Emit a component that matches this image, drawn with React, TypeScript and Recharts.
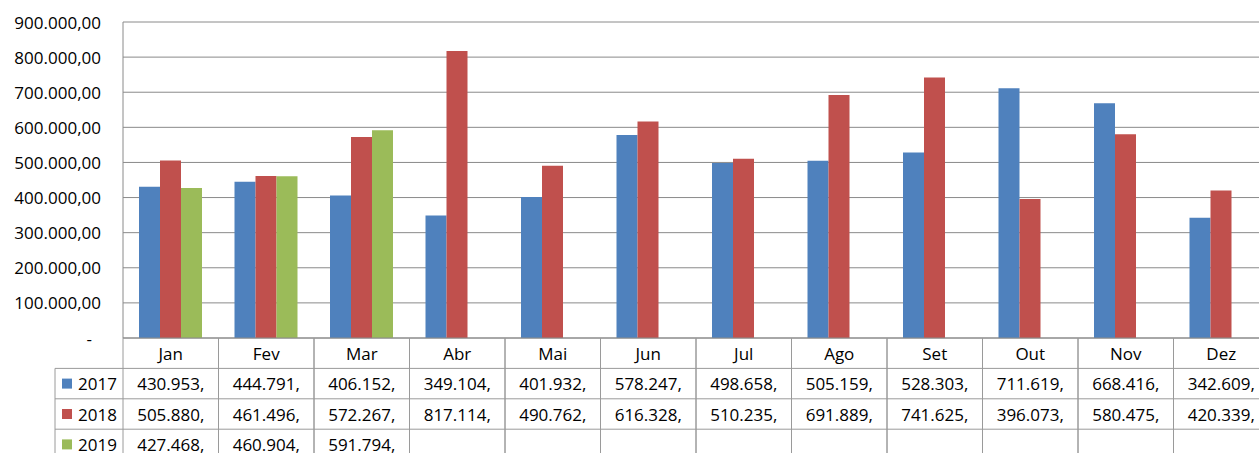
import { BarChart, Bar, XAxis, YAxis, CartesianGrid } from "recharts"

const months = ["Jan", "Fev", "Mar", "Abr", "Mai", "Jun", "Jul", "Ago", "Set", "Out", "Nov", "Dez"]
const sales2017 = [430953, 444791, 406152, 349104, 401932, 578247, 498658, 505159, 528303, 711619, 668416, 342609]
const sales2018 = [505880, 461496, 572267, 817114, 490762, 616328, 510235, 691889, 741625, 396073, 580475, 420339]
const sales2019 = [427468, 460904, 591794, null, null, null, null, null, null, null, null, null]
const yTicks = [0, 100000, 200000, 300000, 400000, 500000, 600000, 700000, 800000, 900000]

const series = [
  { key: "y2017", label: "2017", color: "#4F81BD", values: sales2017 },
  { key: "y2018", label: "2018", color: "#C0504D", values: sales2018 },
  { key: "y2019", label: "2019", color: "#9BBB59", values: sales2019 },
]

const chartData = months.map((month, i) => {
  const row: any = { month }
  series.forEach((s) => {
    row[s.key] = s.values[i]
  })
  return row
})

const FONT = "'Open Sans', 'Liberation Sans', sans-serif"
const GRID = "#8a8a8a"
const TABLE_LINE = "#9a9a9a"
const ROW_H = 30.4
const AXIS_Y = 338

// 1234567 -> "1.234.567"
const group = (n: number) => {
  const s = String(Math.floor(n))
  return s.replace(/\B(?=(\d{3})+(?!\d))/g, ".")
}

const formatYAxis = (v: number) => (v === 0 ? "-" : `${group(v)},00`)
const formatCell = (v: number | null) => (v == null ? "" : `${group(v)},`)

const YTick = ({ x, y, payload }: any) => (
  <text
    x={x}
    y={y}
    dx={payload.value === 0 ? -9 : 0}
    textAnchor="end"
    dominantBaseline="central"
    fill="#000"
    fontSize={17}
    fontFamily={FONT}
  >
    {formatYAxis(payload.value)}
  </text>
)

// each x tick draws its own column of the data table
const TableColumn = ({ x, y, payload }: any) => {
  const half = payload.offset || 47.75
  const i = months.indexOf(payload.value)
  const bottom = y + ROW_H * 4
  return (
    <g>
      <line x1={x - half} x2={x - half} y1={y} y2={bottom} stroke={TABLE_LINE} />
      <line x1={x + half} x2={x + half} y1={y} y2={bottom} stroke={TABLE_LINE} />
      {[1, 2, 3, 4].map((r) => (
        <line key={r} x1={x - half} x2={x + half} y1={y + ROW_H * r} y2={y + ROW_H * r} stroke={TABLE_LINE} />
      ))}
      <text x={x} y={y + ROW_H / 2} textAnchor="middle" dominantBaseline="central" fill="#000" fontSize={17} fontFamily={FONT}>
        {payload.value}
      </text>
      {series.map((s, r) => (
        <text
          key={s.key}
          x={x}
          y={y + ROW_H * (r + 1.5)}
          textAnchor="middle"
          dominantBaseline="central"
          fill="#000"
          fontSize={17}
          fontFamily={FONT}
        >
          {formatCell(s.values[i])}
        </text>
      ))}
    </g>
  )
}

export default function App() {
  return (
    <div
      style={{
        position: "fixed",
        left: 0,
        top: 0,
        width: 1259,
        height: 453,
        overflow: "hidden",
        background: "#fff",
        fontFamily: FONT,
      }}
    >
      <BarChart
        width={1280}
        height={453}
        data={chartData}
        margin={{ top: 22, right: 11, left: 0, bottom: 0 }}
        barCategoryGap={16}
        barGap={0}
      >
        <CartesianGrid stroke={GRID} vertical={false} />
        <YAxis
          width={123}
          domain={[0, 900000]}
          ticks={yTicks}
          interval={0}
          axisLine={{ stroke: GRID }}
          tickLine={false}
          tickSize={0}
          tickMargin={22}
          tick={<YTick />}
        />
        <XAxis
          dataKey="month"
          height={115}
          interval={0}
          axisLine={{ stroke: GRID }}
          tickLine={false}
          tickSize={0}
          tickMargin={0}
          tick={<TableColumn />}
        />
        {series.map((s) => (
          <Bar key={s.key} dataKey={s.key} fill={s.color} isAnimationActive={false} />
        ))}
      </BarChart>

      {/* legend keys in the left column of the data table */}
      <svg width={130} height={453} style={{ position: "absolute", left: 0, top: 0, pointerEvents: "none" }}>
        <line x1={55} x2={55} y1={AXIS_Y + ROW_H} y2={AXIS_Y + ROW_H * 4} stroke={TABLE_LINE} />
        {[1, 2, 3, 4].map((r) => (
          <line key={r} x1={55} x2={123} y1={AXIS_Y + ROW_H * r} y2={AXIS_Y + ROW_H * r} stroke={TABLE_LINE} />
        ))}
        {series.map((s, r) => {
          const cy = AXIS_Y + ROW_H * (r + 1.5)
          return (
            <g key={s.key}>
              <rect x={62} y={cy - 5} width={10} height={10} fill={s.color} />
              <text x={78} y={cy} dominantBaseline="central" fill="#000" fontSize={17} fontFamily={FONT}>
                {s.label}
              </text>
            </g>
          )
        })}
      </svg>
    </div>
  )
}
